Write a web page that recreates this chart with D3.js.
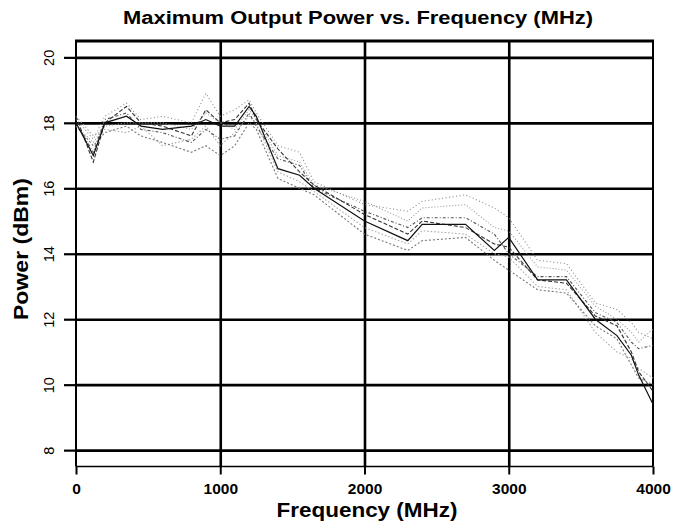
<!DOCTYPE html>
<html>
<head>
<meta charset="utf-8">
<script src="https://cdn.jsdelivr.net/npm/d3@7"></script>
<style>
  html, body { margin: 0; padding: 0; background: #fff; }
  svg { display: block; }
  text { font-family: "Liberation Sans", Arial, Helvetica, sans-serif; fill: #000; }
</style>
</head>
<body>
<svg id="chart" width="675" height="526"></svg>
<script>
// ---- data ----
const freqs = [0, 120, 200, 350, 450, 600, 800, 900, 1000, 1100, 1200, 1250, 1400, 1550, 1650, 2000, 2300, 2400, 2700, 2900, 3000, 3200, 3400, 3600, 3750, 3850, 3900, 4000];
const seriesA = [18.0, 17.0, 18.0, 18.2, 17.9, 17.8, 17.9, 18.1, 17.9, 17.9, 18.5, 18.2, 16.6, 16.4, 16.0, 15.0, 14.4, 14.9, 14.9, 14.1, 14.5, 13.2, 13.2, 12.0, 11.5, 10.9, 10.3, 9.4];
const seriesB = [18.2, 16.8, 18.0, 18.5, 18.0, 17.9, 17.6, 18.4, 18.0, 18.1, 18.6, 18.1, 17.2, 16.5, 16.1, 15.2, 14.6, 15.0, 14.8, 14.3, 14.2, 13.2, 13.1, 12.1, 11.8, 11.0, 10.4, 9.8];
const seriesC = [18.1, 17.5, 18.2, 18.6, 18.1, 18.2, 18.0, 18.9, 18.2, 18.4, 18.7, 18.3, 17.3, 17.1, 16.2, 15.5, 15.3, 15.6, 15.8, 15.4, 15.1, 13.8, 13.7, 12.5, 12.3, 11.9, 11.6, 11.4];
const seriesD = [17.9, 17.3, 17.7, 17.9, 17.6, 17.4, 17.1, 17.3, 17.0, 17.3, 18.0, 17.8, 16.3, 16.0, 15.8, 14.6, 14.1, 14.4, 14.5, 13.8, 13.5, 12.9, 12.8, 11.8, 11.4, 10.6, 10.2, 10.0];
const seriesE = [18.0, 17.1, 18.1, 18.3, 17.8, 17.7, 17.4, 17.8, 17.5, 17.6, 18.3, 17.9, 16.9, 16.7, 16.0, 15.3, 14.8, 15.1, 15.1, 14.6, 14.0, 13.3, 13.3, 12.2, 11.9, 11.3, 11.1, 11.2];
const seriesF = [18.2, 17.6, 17.8, 17.7, 17.9, 17.3, 17.5, 17.9, 17.3, 17.7, 18.2, 18.0, 16.5, 16.2, 15.9, 14.8, 14.3, 14.7, 14.6, 14.0, 13.9, 13.0, 12.9, 11.6, 11.0, 10.8, 10.5, 10.2];
const seriesG = [17.9, 17.4, 17.9, 18.0, 18.0, 18.0, 17.8, 18.3, 18.0, 17.8, 18.4, 18.1, 17.0, 16.8, 16.1, 15.6, 15.0, 15.4, 15.5, 14.8, 14.7, 13.6, 13.5, 12.4, 12.0, 11.6, 11.3, 11.7];
const xTicks = [0, 1000, 2000, 3000, 4000];
const yTicks = [8, 10, 12, 14, 16, 18, 20];
const titleText = "Maximum Output Power vs. Frequency (MHz)";
const xLabel = "Frequency (MHz)";
const yLabel = "Power  (dBm)";

// ---- layout ----
const svg = d3.select("#chart");
const pL = 76, pR = 653, pT = 41, pB = 466.5;
const x = d3.scaleLinear().domain([0, 4000]).range([pL, pR]);
const y = d3.scaleLinear().domain([7.5, 20.5]).range([pB, pT]);

const series = [
  { v: seriesG, color: "#9a9a9a", dash: "1,2", w: 1.1 },
  { v: seriesC, color: "#888", dash: "1,2.5", w: 1.1 },
  { v: seriesF, color: "#a8a8a8", dash: "1.5,2", w: 1.1 },
  { v: seriesD, color: "#777", dash: "2,2", w: 1.1 },
  { v: seriesE, color: "#555", dash: "3,2,1,2", w: 1.1 },
  { v: seriesB, color: "#333", dash: "4,2", w: 1.1 },
  { v: seriesA, color: "#111", dash: null, w: 1.2 }
];

// gridlines (through axes)
svg.append("g")
  .attr("transform", `translate(${pL},0)`)
  .call(d3.axisLeft(y).tickValues(yTicks).tickSize(-(pR - pL)).tickFormat(""))
  .call(g => g.select(".domain").remove())
  .call(g => g.selectAll("line").attr("stroke", "#000").attr("stroke-width", 2.6));

svg.append("g")
  .attr("transform", `translate(0,${pB})`)
  .call(d3.axisBottom(x).tickValues(xTicks.slice(1, -1)).tickSize(-(pB - pT)).tickFormat(""))
  .call(g => g.select(".domain").remove())
  .call(g => g.selectAll("line").attr("stroke", "#000").attr("stroke-width", 2.6));

// frame
svg.append("line").attr("x1", pL - 1).attr("x2", pR + 1).attr("y1", pT).attr("y2", pT)
  .attr("stroke", "#000").attr("stroke-width", 3);
svg.append("line").attr("x1", pL).attr("x2", pL).attr("y1", pT).attr("y2", pB)
  .attr("stroke", "#000").attr("stroke-width", 2);
svg.append("line").attr("x1", pR).attr("x2", pR).attr("y1", pT).attr("y2", pB)
  .attr("stroke", "#000").attr("stroke-width", 2);
svg.append("line").attr("x1", pL).attr("x2", pR).attr("y1", pB).attr("y2", pB)
  .attr("stroke", "#000").attr("stroke-width", 1.5);

// series
const line = d3.line().x((d, i) => x(freqs[i])).y(d => y(d));
series.forEach(s => {
  svg.append("path")
    .datum(s.v)
    .attr("d", line)
    .attr("fill", "none")
    .attr("stroke", s.color)
    .attr("stroke-width", s.w)
    .attr("stroke-dasharray", s.dash);
});

// y axis ticks + labels
const yAx = svg.append("g")
  .attr("transform", `translate(${pL},0)`)
  .call(d3.axisLeft(y).tickValues(yTicks).tickSize(12).tickPadding(0).tickFormat(d3.format("d")));
yAx.select(".domain").remove();
yAx.selectAll("line").attr("stroke", "#000").attr("stroke-width", 2.2);
yAx.selectAll("text")
  .attr("transform", "rotate(-90)")
  .attr("x", 0).attr("y", -22).attr("dy", null)
  .attr("text-anchor", "middle")
  .style("font-family", "'Liberation Sans', Arial, sans-serif")
  .style("font-size", "14.5px").attr("fill", "#000");

// x axis ticks + labels
const xAx = svg.append("g")
  .attr("transform", `translate(0,${pB})`)
  .call(d3.axisBottom(x).tickValues(xTicks).tickSize(8).tickPadding(0).tickFormat(d3.format("d")));
xAx.select(".domain").remove();
xAx.selectAll("line").attr("stroke", "#000").attr("stroke-width", 2);
xAx.selectAll("text")
  .attr("y", 27).attr("dy", null)
  .style("font-family", "'Liberation Sans', Arial, sans-serif")
  .style("font-size", "15.5px").style("font-weight", "bold").attr("fill", "#000");

// titles
svg.append("text")
  .attr("x", 358).attr("y", 24)
  .attr("text-anchor", "middle")
  .attr("textLength", 470).attr("lengthAdjust", "spacingAndGlyphs")
  .style("font-size", "18px").style("font-weight", "bold")
  .text(titleText);

svg.append("text")
  .attr("x", 367).attr("y", 517)
  .attr("text-anchor", "middle")
  .attr("textLength", 181).attr("lengthAdjust", "spacingAndGlyphs")
  .style("font-size", "20px").style("font-weight", "bold")
  .text(xLabel);

svg.append("text")
  .attr("transform", "translate(28,249) rotate(-90)")
  .attr("text-anchor", "middle")
  .attr("textLength", 142).attr("lengthAdjust", "spacingAndGlyphs")
  .style("font-size", "20px").style("font-weight", "bold")
  .text(yLabel);
</script>
</body>
</html>
